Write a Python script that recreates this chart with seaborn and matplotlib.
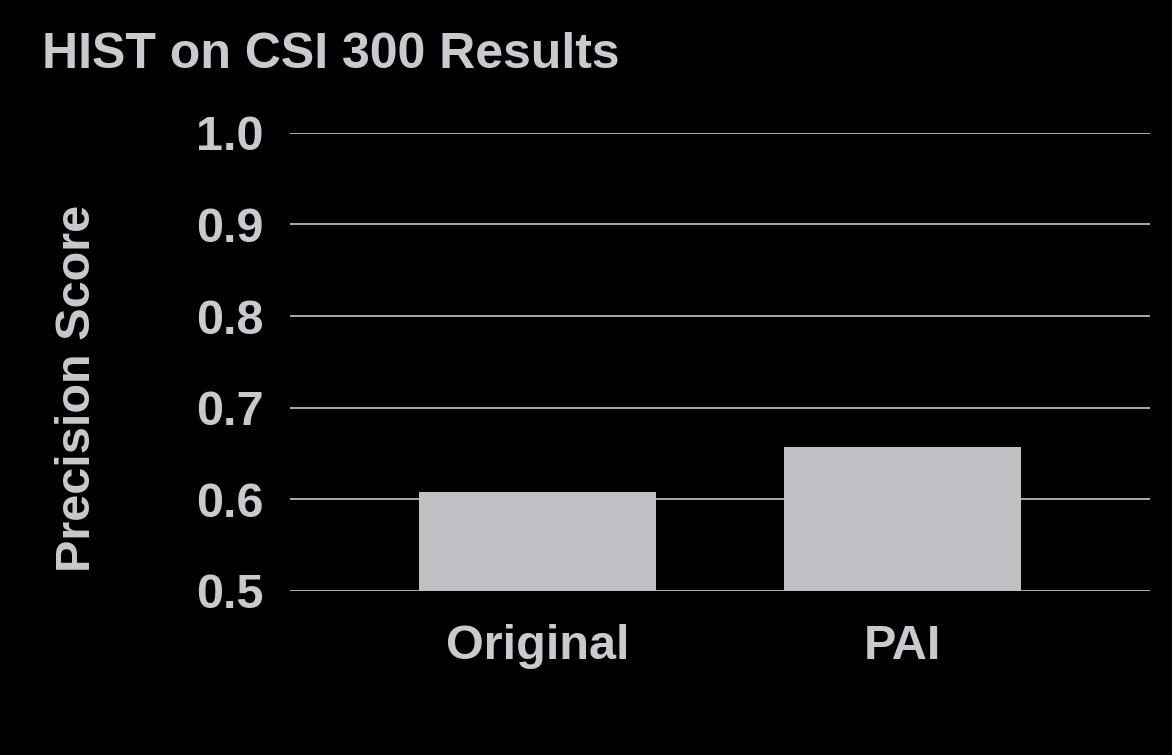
import matplotlib
matplotlib.use("Agg")
import matplotlib.pyplot as plt
import seaborn as sns
import pandas as pd

categories = ["Original", "PAI"]
precision = [0.608, 0.657]
yticks = [0.5, 0.6, 0.7, 0.8, 0.9, 1.0]
title_text = "HIST on CSI 300 Results"
ylabel_text = "Precision Score"

sns.set_theme(style="dark")
plt.rcParams['font.family'] = ['Liberation Sans', 'DejaVu Sans']
plt.rcParams['font.weight'] = 'bold'

text_color = "#C9CACE"
bar_color = "#BFC0C4"
bg = "#000000"

fig = plt.figure(figsize=(11.72, 7.55), dpi=100, facecolor=bg)
ax = fig.add_axes([290/1172, 1-591/755, 860/1172, (591-132.7)/755])
ax.set_facecolor(bg)

df = pd.DataFrame({"cat": categories, "val": precision})
sns.barplot(data=df, x="cat", y="val", color=bar_color, width=0.65,
            saturation=1, ax=ax, zorder=3, edgecolor="none")

ax.set_ylim(0.5, 1.0)
ax.set_xlim(-0.68, 1.68)
ax.set_yticks(yticks)
ax.set_yticklabels([f"{t:.1f}" for t in yticks])
ax.grid(axis="y", color="#C8C8C8", linewidth=1.2, zorder=0)
ax.grid(axis="x", visible=False)
for s in ax.spines.values():
    s.set_visible(False)
ax.tick_params(axis="both", length=0, labelsize=35, labelcolor=text_color)
ax.tick_params(axis="y", pad=19)
ax.tick_params(axis="x", pad=24)
for lab in ax.get_xticklabels() + ax.get_yticklabels():
    lab.set_fontweight("bold")

ax.set_xlabel("")
ax.set_ylabel(ylabel_text, fontsize=35, color=text_color, fontweight="bold")
ax.yaxis.set_label_coords(-0.221, 0.443)

fig.text(42/1172, 1-68/755, title_text, fontsize=36, color=text_color,
         fontweight="bold", ha="left", va="baseline")

fig.savefig("out.png", dpi=100, facecolor=bg)
